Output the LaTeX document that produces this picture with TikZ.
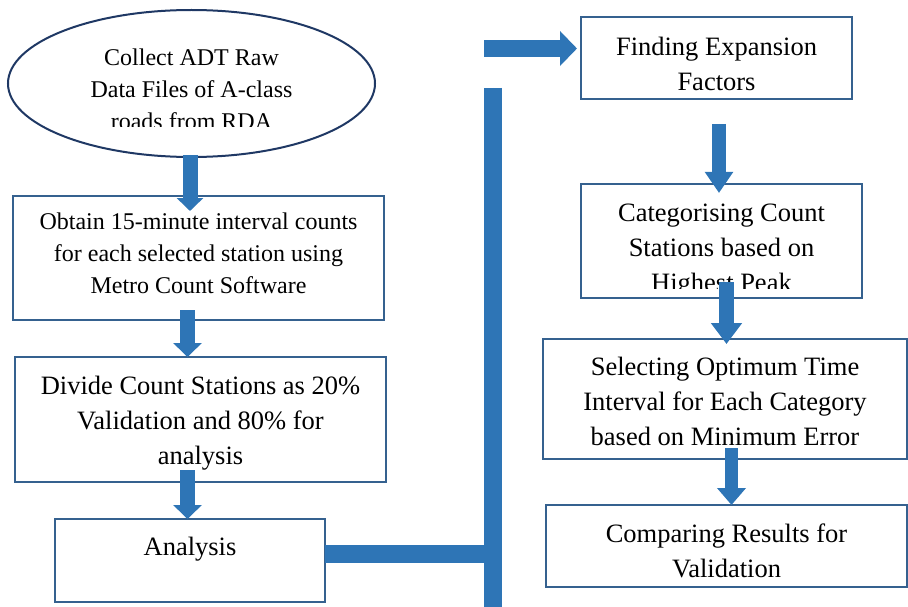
\documentclass[tikz,border=0pt]{standalone}
\usepackage{fontspec}
\setmainfont{Liberation Serif}
\usetikzlibrary{arrows.meta,shapes.geometric,calc}
\definecolor{arrowblue}{HTML}{2E75B6}
\definecolor{boxblue}{HTML}{35618F}
\definecolor{navyline}{HTML}{1F3864}
\begin{document}
\begin{tikzpicture}[x=1pt,y=-1pt,
  box/.style={draw=boxblue,line width=2pt,rectangle,inner sep=0pt,outer sep=0pt},
  txt/.style={align=center,inner sep=0pt},
  smalltext/.style={txt,font=\fontsize{24}{32}\selectfont},
  bigtext/.style={txt,font=\fontsize{26.5}{35}\selectfont},
  flow/.style={draw=arrowblue,fill=arrowblue,line width=15pt},
 ]
\useasboundingbox (0,0) rectangle (908,607);

% start ellipse
\node[draw=navyline,line width=2pt,ellipse,minimum width=367pt,minimum height=147pt,inner sep=0pt,outer sep=0pt] (ell) at (191.5,83.5) {};
\begin{scope}
\clip (0,0) rectangle (908,126.5);
\node[smalltext] (elltext) at ($(ell)+(0,5.5)$) {Collect ADT Raw\\Data Files of A-class\\roads from RDA};
\end{scope}

% left column
\node[box,minimum width=371pt,minimum height=124pt] (obtain) at (198.5,258) {};
\node[smalltext] (obtaintext) at ($(obtain)+(0,-4.5)$) {Obtain 15-minute interval counts\\for each selected station using\\Metro Count Software};
\node[box,minimum width=371pt,minimum height=125pt] (divide) at (200.5,419.5) {};
\node[bigtext] (dividetext) at ($(divide)+(0,3.5)$) {Divide Count Stations as 20\%\\Validation and 80\% for\\analysis};
\node[box,minimum width=270pt,minimum height=83pt] (analysis) at (190,560.5) {};
\node[bigtext,anchor=base] (analysistext) at (190,555) {Analysis};

% right column
\node[box,minimum width=271pt,minimum height=82pt] (finding) at (716.5,58) {};
\node[bigtext] (findingtext) at ($(finding)+(0,6)$) {Finding Expansion\\Factors};
\node[box,minimum width=281pt,minimum height=114pt] (categ) at (721.5,241) {};
\begin{scope}
\clip (581,184) rectangle (862,288);
\node[bigtext] (categtext) at ($(categ)+(0,10)$) {Categorising Count\\Stations based on\\Highest Peak};
\end{scope}
\node[box,minimum width=364pt,minimum height=120pt] (select) at (725,399) {};
\node[bigtext] (selecttext) at ($(select)+(0,2.5)$) {Selecting Optimum Time\\Interval for Each Category\\based on Minimum Error};
\node[box,minimum width=361pt,minimum height=82pt] (compare) at (726.5,546) {};
\node[bigtext] (comparetext) at ($(compare)+(0,4.5)$) {Comparing Results for\\Validation};

% connectors
\draw[flow,-{Triangle[width=26pt,length=13pt]}] ($(ell.south)+(-1.5,-2)$) -- ($(obtain.north)+(-8.5,15)$);
\draw[flow,-{Triangle[width=28pt,length=14pt]}] ($(obtain.south)+(-11,-10)$) -- ($(divide.north)+(-13,0)$);
\draw[flow,-{Triangle[width=28pt,length=14pt]}] ($(divide.south)+(-13,-12)$) -- ($(analysis.north)+(-2.5,0)$);

\coordinate (vtop) at (493,88);
\coordinate (vbot) at (493,607);
\draw[flow,line width=18pt] (vtop) -- (vbot);
\draw[flow,line width=18pt] ($(analysis.east)+(0,-6.5)$) -- ($(analysis.east -| vtop)+(0,-6.5)$);

\coordinate (tstart) at (484,48.5);
\draw[flow,line width=17pt,-{Triangle[width=34pt,length=17pt]}] (tstart) -- ($(finding.west)+(-4,-9.5)$);

\draw[flow,line width=14pt,-{Triangle[width=27pt,length=21pt]}] ($(finding.south)+(2.5,25)$) -- ($(categ.north)+(-2.5,9)$);
\draw[flow,-{Triangle[width=30pt,length=21pt]}] ($(categ.south)+(5,-16)$) -- ($(select.north)+(1.5,5)$);
\draw[flow,line width=13pt,-{Triangle[width=28pt,length=17pt]}] ($(select.south)+(6.5,-11)$) -- ($(compare.north)+(5,0)$);
\end{tikzpicture}
\end{document}
